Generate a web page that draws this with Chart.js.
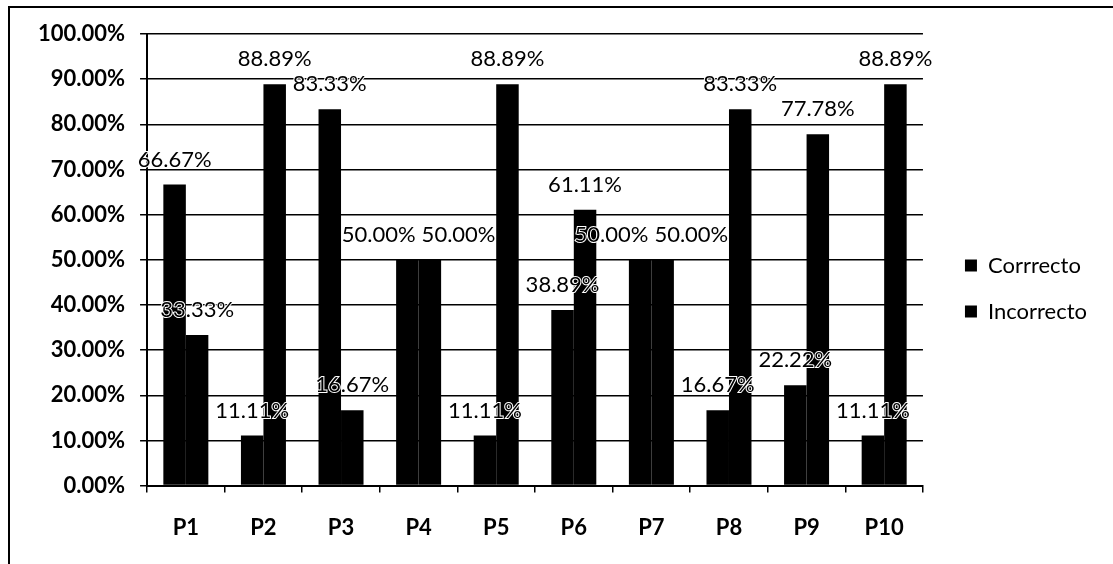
<!DOCTYPE html>
<html>
<head>
<meta charset="utf-8">
<script src="https://cdn.jsdelivr.net/npm/chart.js@4.4.1/dist/chart.umd.min.js"></script>
<style>
    html, body { margin: 0; padding: 0; background: #fff; overflow: hidden; }
    #frame { position: absolute; left: 8px; top: 6px; width: 1200px; height: 700px;
        border-left: 2px solid #000; border-top: 2px solid #000; }
    #wrap { position: absolute; left: 0; top: 0; width: 1113px; height: 577px; }
</style>
</head>
<body>
<div id="frame"></div>
<div id="wrap"><canvas id="chart" width="1113" height="577"></canvas></div>
<script>
// Categories and series
const categories = ['P1', 'P2', 'P3', 'P4', 'P5', 'P6', 'P7', 'P8', 'P9', 'P10'];
const correcto = [66.67, 11.11, 83.33, 50.00, 11.11, 38.89, 50.00, 16.67, 22.22, 11.11];
const incorrecto = [33.33, 88.89, 16.67, 50.00, 88.89, 61.11, 50.00, 83.33, 77.78, 88.89];
const yTicks = [0, 10, 20, 30, 40, 50, 60, 70, 80, 90, 100];

const FONT = 'Lato';
const fmt = v => v.toFixed(2) + '%';

// Value labels above bars, pushed apart when they collide
const valueLabels = {
    id: 'valueLabels',
    afterDatasetsDraw(chart) {
        const ctx = chart.ctx;
        ctx.save();
        ctx.font = `22px ${FONT}`;
        ctx.textAlign = 'center';
        ctx.textBaseline = 'middle';
        const m0 = chart.getDatasetMeta(0).data;
        const m1 = chart.getDatasetMeta(1).data;
        categories.forEach((c, i) => {
            const items = [
                { bar: m0[i], text: fmt(chart.data.datasets[0].data[i]) },
                { bar: m1[i], text: fmt(chart.data.datasets[1].data[i]) }
            ];
            items.forEach(it => {
                it.x = it.bar.x;
                it.y = it.bar.y - 25;
                it.w = ctx.measureText(it.text).width;
            });
            const a = items[0], b = items[1];
            if (Math.abs(a.y - b.y) < 20) {
                const need = (a.w + b.w) / 2 + 6;
                const gap = b.x - a.x;
                if (gap < need) {
                    const push = (need - gap) / 2;
                    a.x -= push;
                    b.x += push;
                }
            }
            items.forEach(it => {
                ctx.lineWidth = 2;
                ctx.strokeStyle = '#fff';
                ctx.strokeText(it.text, it.x, it.y);
                ctx.fillStyle = '#000';
                ctx.fillText(it.text, it.x, it.y);
            });
        });
        ctx.restore();
    }
};

// Leave a wider gap between the plot and the legend
const legendGap = {
    id: 'legendGap',
    beforeLayout(chart) {
        const lg = chart.legend;
        if (lg && !lg._wide) {
            const fit = lg.fit;
            lg.fit = function () { fit.call(this); this.width += 24; };
            lg._wide = true;
        }
    },
    afterLayout(chart) {
        const lg = chart.legend;
        if (lg) {
            lg.left += 18; lg.right += 18;
            lg.top -= 10; lg.bottom -= 10;
        }
    }
};

new Chart(document.getElementById('chart'), {
    type: 'bar',
    data: {
        labels: categories,
        datasets: [
            { label: 'Corrrecto', data: correcto, backgroundColor: '#000', borderWidth: 0,
              categoryPercentage: 0.58, barPercentage: 1.0 },
            { label: 'Incorrecto', data: incorrecto, backgroundColor: '#000', borderWidth: 0,
              categoryPercentage: 0.58, barPercentage: 1.0 }
        ]
    },
    options: {
        responsive: false,
        animation: false,
        devicePixelRatio: 1,
        layout: { padding: { left: 23, top: 34, right: 10, bottom: 14 } },
        plugins: {
            tooltip: { enabled: false },
            legend: {
                position: 'right',
                labels: {
                    color: '#000',
                    boxWidth: 12,
                    boxHeight: 12,
                    padding: 24,
                    font: { family: FONT, size: 22 }
                }
            }
        },
        scales: {
            x: {
                grid: { drawOnChartArea: false, drawTicks: true, tickLength: 7, color: '#000', lineWidth: 1.5 },
                border: { color: '#000', width: 2 },
                ticks: { color: '#000', padding: 22, font: { family: FONT, size: 22, weight: 'bold' } }
            },
            y: {
                min: 0,
                max: 100,
                afterBuildTicks: axis => { axis.ticks = yTicks.map(v => ({ value: v })); },
                grid: { color: '#000', lineWidth: 1.5, tickLength: 7 },
                border: { color: '#000', width: 2 },
                ticks: { color: '#000', padding: 15, font: { family: FONT, size: 22, weight: 'bold' },
                         callback: v => fmt(v) }
            }
        }
    },
    plugins: [valueLabels, legendGap]
});
</script>
</body>
</html>
